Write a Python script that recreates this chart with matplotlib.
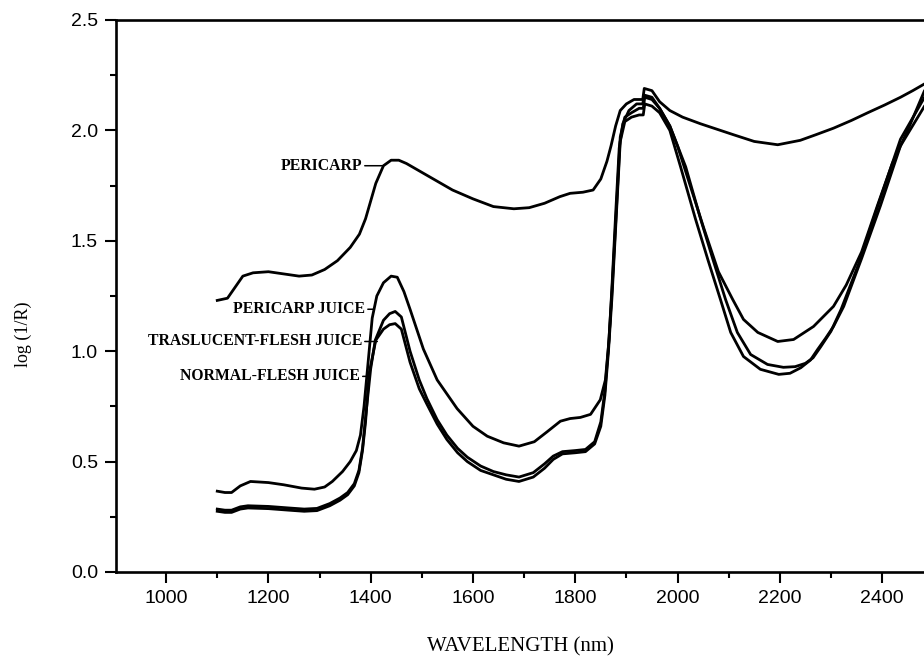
import matplotlib.pyplot as plt
from matplotlib.ticker import MultipleLocator

# NIR spectra (wavelength in nm, log(1/R))
pericarp_nm = [1100, 1120, 1135, 1150, 1170, 1200, 1230, 1260, 1285, 1310, 1335, 1360, 1378,
               1390, 1400, 1410, 1425, 1440, 1455, 1470, 1500, 1530, 1560, 1600, 1640, 1680,
               1710, 1740, 1770, 1790, 1815, 1835, 1850, 1862, 1870, 1879, 1888, 1900, 1915,
               1932, 1935, 1950, 1965, 1985, 2010, 2045, 2084, 2110, 2150, 2196, 2240, 2270,
               2305, 2340, 2372, 2405, 2436, 2460, 2490, 2500]
pericarp = [1.23, 1.24, 1.29, 1.34, 1.355, 1.36, 1.35, 1.34, 1.345, 1.37, 1.41, 1.47, 1.53,
            1.60, 1.68, 1.76, 1.84, 1.865, 1.865, 1.85, 1.81, 1.77, 1.73, 1.69, 1.655, 1.645,
            1.65, 1.67, 1.70, 1.715, 1.72, 1.73, 1.78, 1.86, 1.93, 2.02, 2.09, 2.12, 2.14,
            2.14, 2.19, 2.18, 2.13, 2.09, 2.06, 2.03, 2.00, 1.98, 1.95, 1.935, 1.955, 1.98,
            2.01, 2.045, 2.08, 2.115, 2.15, 2.18, 2.22, 2.23]

pj_nm = [1100, 1115, 1128, 1145, 1165, 1200, 1230, 1265, 1290, 1310, 1325, 1345, 1360, 1372,
         1380, 1387, 1395, 1403, 1412, 1425, 1440, 1452, 1465, 1477, 1503, 1530, 1569, 1600,
         1628, 1660, 1690, 1720, 1745, 1771, 1790, 1810, 1830, 1849, 1859, 1866, 1872, 1879,
         1886, 1893, 1905, 1920, 1932, 1935, 1950, 1965, 1985, 2000, 2022, 2051, 2080, 2108,
         2129, 2157, 2196, 2227, 2266, 2305, 2330, 2360, 2391, 2420, 2450, 2483, 2500]
pericarp_juice = [0.366, 0.36, 0.36, 0.39, 0.41, 0.405, 0.395, 0.38, 0.375, 0.385, 0.41, 0.455,
                  0.50, 0.55, 0.62, 0.75, 0.95, 1.15, 1.25, 1.31, 1.34, 1.335, 1.27, 1.19, 1.01,
                  0.87, 0.74, 0.66, 0.615, 0.585, 0.57, 0.59, 0.635, 0.683, 0.695, 0.70, 0.714,
                  0.78, 0.87, 1.05, 1.30, 1.62, 1.92, 2.03, 2.09, 2.12, 2.12, 2.16, 2.15, 2.10,
                  2.02, 1.93, 1.77, 1.56, 1.36, 1.234, 1.144, 1.085, 1.044, 1.053, 1.112, 1.203,
                  1.30, 1.45, 1.66, 1.85, 2.00, 2.18, 2.22]

tfj_nm = [1100, 1115, 1128, 1145, 1160, 1200, 1240, 1270, 1295, 1320, 1340, 1355, 1368, 1377,
          1384, 1390, 1400, 1409, 1425, 1437, 1448, 1460, 1477, 1495, 1510, 1530, 1549, 1570,
          1589, 1615, 1640, 1665, 1690, 1718, 1740, 1757, 1775, 1800, 1820, 1838, 1850, 1858,
          1865, 1872, 1880, 1888, 1897, 1910, 1925, 1933, 1936, 1950, 1965, 1985, 2016, 2045,
          2070, 2094, 2117, 2143, 2176, 2207, 2230, 2250, 2265, 2280, 2300, 2320, 2355, 2392,
          2436, 2483, 2500]
traslucent_juice = [0.285, 0.28, 0.28, 0.295, 0.30, 0.297, 0.29, 0.285, 0.288, 0.31, 0.335,
                    0.36, 0.40, 0.46, 0.56, 0.70, 0.92, 1.05, 1.14, 1.17, 1.18, 1.155, 1.0, 0.87,
                    0.785, 0.69, 0.62, 0.56, 0.52, 0.48, 0.455, 0.44, 0.43, 0.45, 0.49, 0.525,
                    0.545, 0.55, 0.555, 0.59, 0.68, 0.82, 1.02, 1.28, 1.62, 1.97, 2.06, 2.08,
                    2.10, 2.10, 2.15, 2.14, 2.10, 2.02, 1.835, 1.60, 1.41, 1.234, 1.085, 0.985,
                    0.94, 0.927, 0.93, 0.945, 0.97, 1.02, 1.09, 1.19, 1.40, 1.66, 1.96, 2.15, 2.2]

nfj_nm = [1100, 1115, 1128, 1145, 1160, 1200, 1240, 1270, 1295, 1320, 1340, 1355, 1368, 1377,
          1384, 1390, 1397, 1410, 1425, 1437, 1448, 1460, 1477, 1495, 1510, 1530, 1549, 1570,
          1589, 1615, 1640, 1665, 1690, 1718, 1740, 1757, 1775, 1800, 1820, 1838, 1850, 1858,
          1865, 1872, 1880, 1888, 1897, 1910, 1925, 1933, 1936, 1950, 1965, 1985, 2006, 2035,
          2060, 2084, 2104, 2129, 2162, 2198, 2220, 2241, 2260, 2274, 2290, 2305, 2325, 2360,
          2397, 2436, 2483, 2500]
normal_juice = [0.275, 0.27, 0.27, 0.285, 0.29, 0.287, 0.28, 0.275, 0.278, 0.30, 0.325, 0.35,
                0.39, 0.45, 0.55, 0.68, 0.90, 1.05, 1.10, 1.12, 1.125, 1.10, 0.95, 0.83, 0.76,
                0.67, 0.60, 0.54, 0.50, 0.46, 0.44, 0.42, 0.41, 0.43, 0.47, 0.51, 0.535, 0.54,
                0.545, 0.58, 0.66, 0.80, 1.00, 1.25, 1.60, 1.95, 2.04, 2.06, 2.07, 2.07, 2.12,
                2.11, 2.08, 2.0, 1.835, 1.60, 1.41, 1.234, 1.085, 0.976, 0.918, 0.895, 0.90,
                0.925, 0.96, 1.008, 1.06, 1.112, 1.203, 1.42, 1.66, 1.93, 2.11, 2.16]

# label text anchor (nm, value) and the curve point its leader line reaches
labels = ["PERICARP", "PERICARP JUICE", "TRASLUCENT-FLESH JUICE", "NORMAL-FLESH JUICE"]
label_text_xy = [(1383, 1.84), (1389, 1.19), (1383, 1.044), (1379, 0.886)]
label_curve_xy = [(1424, 1.84), (1405, 1.19), (1413, 1.044), (1397, 0.886)]

fig = plt.figure(figsize=(9.24, 6.57), dpi=100)
ax = fig.add_axes([116 / 924, 85 / 657, 808 / 924, 552 / 657])

for xs, ys in [(pericarp_nm, pericarp), (pj_nm, pericarp_juice),
               (tfj_nm, traslucent_juice), (nfj_nm, normal_juice)]:
    ax.plot(xs, ys, color='black', lw=2.0, solid_joinstyle='round')

for text, txy, cxy in zip(labels, label_text_xy, label_curve_xy):
    ax.annotate(text, xy=cxy, xytext=txy, ha='right', va='center',
                fontsize=11.3, fontweight='bold', family='Liberation Serif',
                arrowprops=dict(arrowstyle='-', lw=1.1, color='black',
                                shrinkA=0, shrinkB=0))

ax.set_xlim(902, 2482)
ax.set_ylim(0, 2.5)
ax.xaxis.set_major_locator(MultipleLocator(200))
ax.xaxis.set_minor_locator(MultipleLocator(100))
ax.yaxis.set_major_locator(MultipleLocator(0.5))
ax.yaxis.set_minor_locator(MultipleLocator(0.25))
ax.yaxis.set_major_formatter(plt.FuncFormatter(lambda v, p: "%.1f" % v))

ax.spines['right'].set_visible(False)
for s in ['left', 'bottom', 'top']:
    ax.spines[s].set_linewidth(1.9)
ax.tick_params(which='major', direction='out', length=8, width=1.5,
               labelsize=14, pad=5)
ax.tick_params(which='minor', direction='out', length=4, width=1.5)
ax.tick_params(top=False, right=False)
for lab in ax.get_xticklabels() + ax.get_yticklabels():
    lab.set_family('Liberation Sans')

ax.set_xlabel("WAVELENGTH (nm)", family='Liberation Serif', fontsize=15)
ax.xaxis.set_label_coords(0.5, -0.118)
ax.set_ylabel("log (1/R)", family='Liberation Serif', fontsize=13)
ax.yaxis.set_label_coords(-0.104, 0.43)

fig.savefig("out.png", dpi=100)
